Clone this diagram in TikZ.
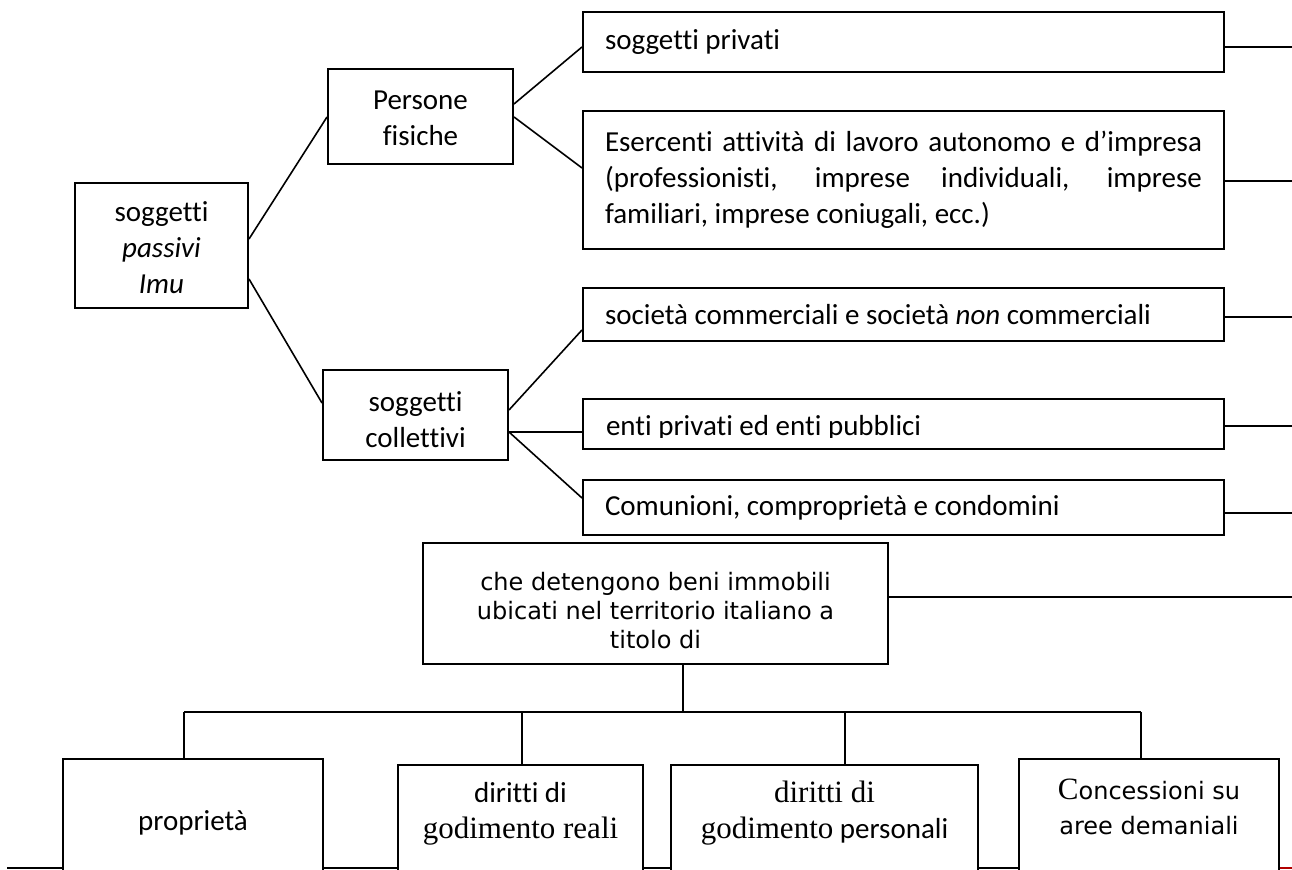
\documentclass[tikz,border=0pt]{standalone}
\usepackage{fontspec}
\setmainfont{Carlito}[Ligatures=NoCommon]
\newfontfamily\dejavu{DejaVu Sans}
\newfontfamily\tnr{Liberation Serif}
\newcommand{\tb}[2][0pt]{\raisebox{#1}[\height][\depth]{\begin{tabular}{@{}c@{}}#2\end{tabular}}}
\newcommand{\serif}{\tnr\fontsize{15.5}{19}\selectfont}
\begin{document}
\begin{tikzpicture}[x=0.5pt,y=-0.5pt,
  box/.style={draw, line width=1pt, fill=white, inner sep=0pt, anchor=north west, font=\fontsize{14.5}{18}\selectfont},
  wide/.style={box, minimum width=320.5pt, text width=298.5pt, align=flush left},
  link/.style={line width=0.8pt},
  dv/.style={font=\dejavu\fontsize{12}{14.5}\selectfont}]
\useasboundingbox (0,0) rectangle (1292,870);
\clip (0,0) rectangle (1292,870);
% base line under the bottom boxes
\draw[line width=1pt] (7,868.5) -- (1278,868.5);
\draw[line width=1pt, red!70!black] (1278,868.5) -- (1292,868.5);
% boxes
\node[box, minimum width=86.5pt, minimum height=62.5pt] (root) at (74,182) {\tb[-2.5pt]{soggetti\\\textit{passivi}\\\textit{Imu}}};
\node[box, minimum width=92.5pt, minimum height=47.5pt] (pf) at (327,68) {\tb[-2pt]{Persone\\fisiche}};
\node[box, minimum width=92.5pt, minimum height=45pt] (coll) at (322,369) {\tb[-3.5pt]{soggetti\\collettivi}};
\node[wide, minimum height=30pt] (priv) at (582,11) {soggetti privati};
\node[wide, minimum height=69pt] (eser) at (582,110) {\makebox[298.5pt][s]{Esercenti attività di lavoro autonomo e d’impresa}\\
\makebox[298.5pt][s]{(professionisti, imprese individuali, imprese}\\
familiari, imprese coniugali, ecc.)};
\node[wide, minimum height=26.5pt] (soc) at (582,287) {\raisebox{-1pt}{società commerciali e società \textit{non} commerciali}};
\node[box, minimum width=320.5pt, minimum height=25pt,
  path picture={
    \clip ([yshift=5.5pt]path picture bounding box.south west) rectangle (path picture bounding box.north east);
    \node[anchor=base west, inner sep=0pt, minimum width=0pt, minimum height=0pt, draw=none, fill=none,
          font=\fontsize{14.5}{18}\selectfont] (entitxt)
      at ([xshift=11pt,yshift=6.5pt]path picture bounding box.south west) {enti privati ed enti pubblici};
  }] (enti) at (582,398) {};
\node[wide, minimum height=27.5pt] (comu) at (582,479) {\raisebox{-3pt}{Comunioni, comproprietà e condomini}};
\node[box, dv, minimum width=232.5pt, minimum height=60.5pt] (che) at (422,542) {\tb[-5pt]{che detengono beni immobili\\ubicati nel territorio italiano a\\titolo di}};
\node[box, minimum width=130pt, minimum height=63.5pt] (prop) at (62,758) {proprietà};
\node[box, minimum width=122.5pt, minimum height=60.5pt] (reali) at (397,764) {\tb[6pt]{diritti di\\{\serif godimento reali}}};
\node[box, minimum width=153.5pt, minimum height=60.5pt] (pers) at (670,764) {\tb[6pt]{{\serif diritti di}\\{\serif godimento} personali}};
\node[box, minimum width=130pt, minimum height=63.5pt, font=\dejavu\fontsize{12}{17.5}\selectfont] (conc) at (1018,758) {\tb[6pt]{{\serif C}oncessioni su\\aree demaniali}};
% tree connectors
\draw[link] (root.east |- 0,239) -- (pf.west |- 0,117);
\draw[link] (root.east |- 0,279) -- (coll.west |- 0,403);
\draw[link] (pf.east |- 0,104) -- (priv.west |- 0,47);
\draw[link] (pf.east |- 0,117) -- (eser.west |- 0,168);
\draw[link] (coll.east |- 0,410) -- (soc.west |- 0,330);
\draw[link] (coll.east |- 0,432) -- (enti.west |- 0,432);
\draw[link] (coll.east |- 0,432) -- (comu.west |- 0,498);
% lines to the right edge
\coordinate (e1) at (1292,47);
\coordinate (e2) at (1292,181);
\coordinate (e3) at (1292,317);
\coordinate (e4) at (1292,426);
\coordinate (e5) at (1292,513);
\coordinate (e6) at (1292,597);
\draw[link] (priv.east |- e1) -- (e1);
\draw[link] (eser.east |- e2) -- (e2);
\draw[link] (soc.east |- e3) -- (e3);
\draw[link] (enti.east |- e4) -- (e4);
\draw[link] (comu.east |- e5) -- (e5);
\draw[link] (che.east |- e6) -- (e6);
% bracket
\coordinate (bt) at (683,712);
\coordinate (b1) at (184,712);
\coordinate (b2) at (522,712);
\coordinate (b3) at (845,712);
\coordinate (b4) at (1141,712);
\draw[link] (che.south -| bt) -- (bt);
\draw[link] (b1) -- (b4);
\draw[link] (b1) -- (prop.north -| b1);
\draw[link] (b2) -- (reali.north -| b2);
\draw[link] (b3) -- (pers.north -| b3);
\draw[link] (b4) -- (conc.north -| b4);
\end{tikzpicture}
\end{document}
